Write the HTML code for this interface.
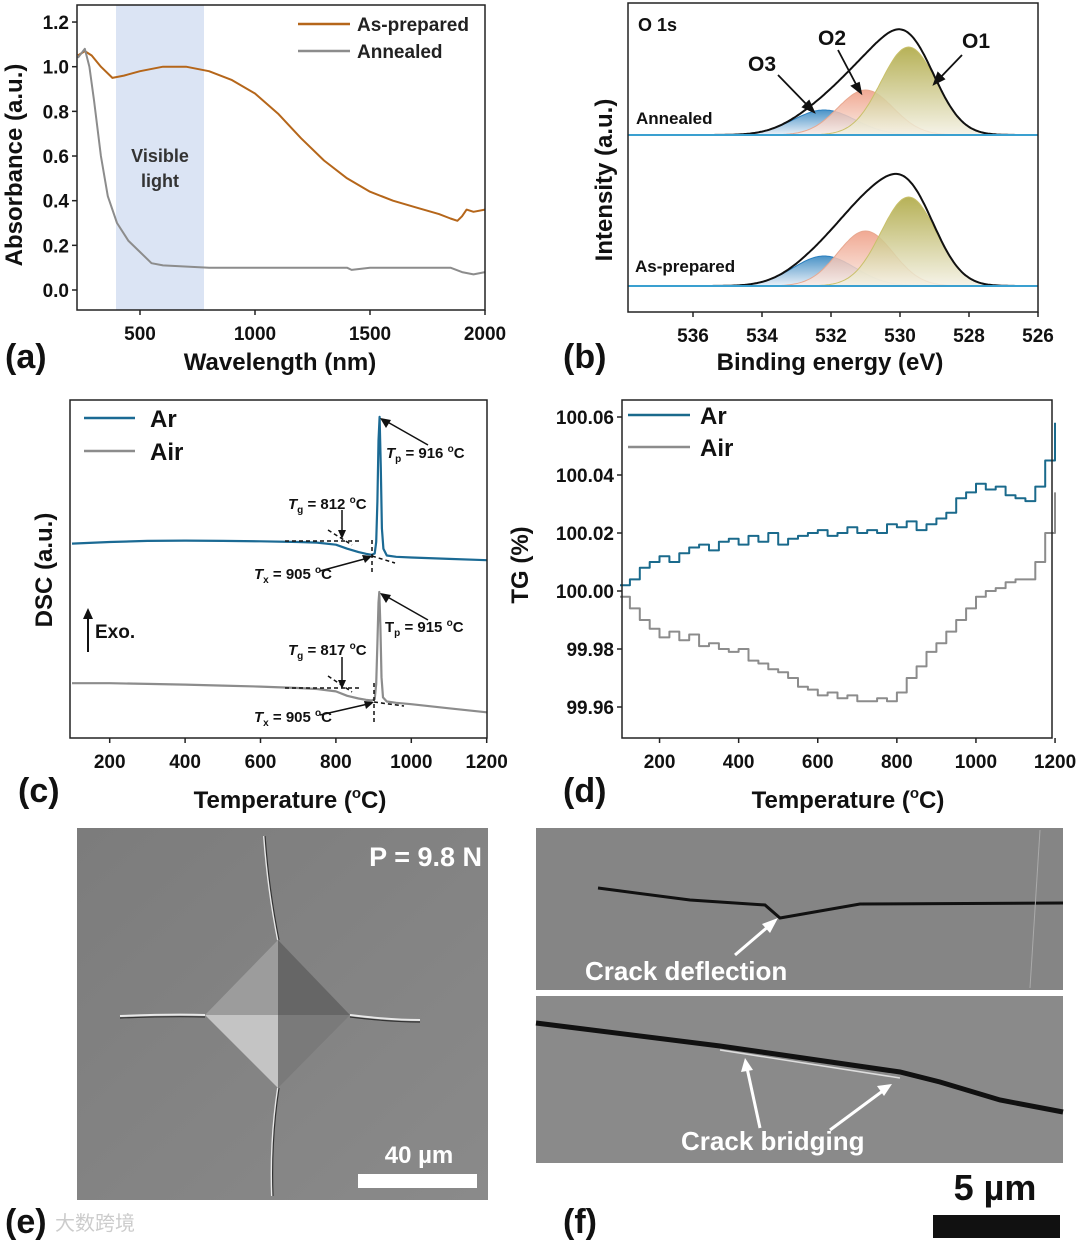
<!DOCTYPE html>
<html><head><meta charset="utf-8"><style>
html,body{margin:0;padding:0;background:#fff;}
svg{display:block;font-family:"Liberation Sans","Noto Sans CJK SC",sans-serif;font-weight:bold;}
</style></head><body>
<svg id="fig" width="1080" height="1241" viewBox="0 0 1080 1241" xmlns="http://www.w3.org/2000/svg">
<defs>
<linearGradient id="gO1" x1="0" y1="0" x2="0" y2="1"><stop offset="0" stop-color="#aaa43a"/><stop offset="1" stop-color="#f4f1e4"/></linearGradient>
<linearGradient id="gO2" x1="0" y1="0" x2="0" y2="1"><stop offset="0" stop-color="#ee9a80"/><stop offset="1" stop-color="#faece6"/></linearGradient>
<linearGradient id="gO3" x1="0" y1="0" x2="0" y2="1"><stop offset="0" stop-color="#2a80bd"/><stop offset="1" stop-color="#e6eef7"/></linearGradient>
<linearGradient id="sem1" x1="0" y1="0" x2="1" y2="1"><stop offset="0" stop-color="#7c7c7c"/><stop offset="1" stop-color="#8a8a8a"/></linearGradient>
</defs>
<!-- panel a -->
<rect x="116" y="5" width="88" height="305" fill="#dbe4f4"/>
<text x="160" y="162" font-size="18" fill="#333" text-anchor="middle">Visible</text>
<text x="160" y="187" font-size="18" fill="#333" text-anchor="middle">light</text>
<g id="pa"></g>
<rect x="77" y="5" width="408" height="305" fill="none" stroke="#222" stroke-width="1.5"/>
<line x1="298" y1="24" x2="350" y2="24" stroke="#b5661a" stroke-width="2.5"/>
<text x="357" y="31" font-size="19" fill="#222">As-prepared</text>
<line x1="298" y1="51" x2="350" y2="51" stroke="#8c8c8c" stroke-width="2.5"/>
<text x="357" y="58" font-size="19" fill="#222">Annealed</text>
<text transform="translate(22,165) rotate(-90)" font-size="24" text-anchor="middle" fill="#111">Absorbance (a.u.)</text>
<text x="280" y="370" font-size="24" text-anchor="middle" fill="#111">Wavelength (nm)</text>
<text x="5" y="368" font-size="34" fill="#111">(a)</text>
<!-- panel b -->
<g id="pb"></g>
<rect x="628" y="3" width="410" height="309" fill="none" stroke="#222" stroke-width="1.5"/>
<text x="638" y="31" font-size="18" fill="#111">O 1s</text>
<text x="636" y="124" font-size="17" fill="#111">Annealed</text>
<text x="635" y="272" font-size="17" fill="#111">As-prepared</text>
<text x="748" y="71" font-size="21" fill="#111">O3</text>
<text x="818" y="45" font-size="21" fill="#111">O2</text>
<text x="962" y="48" font-size="21" fill="#111">O1</text>
<g stroke="#111" stroke-width="1.8" fill="#111">
<line x1="778" y1="75" x2="810" y2="108"/><polygon points="814,112 803,107 809,101"/>
<line x1="838" y1="50" x2="858" y2="88"/><polygon points="861,93 852,86 859,83"/>
<line x1="962" y1="55" x2="938" y2="80"/><polygon points="934,84 938,73 944,79"/>
</g>
<text transform="translate(612,180) rotate(-90)" font-size="24" text-anchor="middle" fill="#111">Intensity (a.u.)</text>
<text x="830" y="370" font-size="24" text-anchor="middle" fill="#111">Binding energy (eV)</text>
<text x="563" y="368" font-size="34" fill="#111">(b)</text>
<!-- panel c -->
<g id="pc"></g>
<rect x="70" y="400" width="417" height="338" fill="none" stroke="#222" stroke-width="1.5"/>
<line x1="84" y1="418" x2="135" y2="418" stroke="#1b6a94" stroke-width="2.5"/>
<text x="150" y="427" font-size="24" fill="#111">Ar</text>
<line x1="84" y1="451" x2="135" y2="451" stroke="#8c8c8c" stroke-width="2.5"/>
<text x="150" y="460" font-size="24" fill="#111">Air</text>
<line x1="88" y1="652" x2="88" y2="616" stroke="#111" stroke-width="2"/>
<polygon points="88,608 83,619 93,619" fill="#111"/>
<text x="95" y="638" font-size="19" fill="#111">Exo.</text>
<g font-size="15" fill="#111">
<text x="386" y="458"><tspan font-style="italic">T</tspan><tspan font-size="10" dy="4">p</tspan><tspan dy="-4"> = 916 </tspan><tspan font-size="10" dy="-6">o</tspan><tspan dy="6">C</tspan></text>
<text x="288" y="509"><tspan font-style="italic">T</tspan><tspan font-size="10" dy="4">g</tspan><tspan dy="-4"> = 812 </tspan><tspan font-size="10" dy="-6">o</tspan><tspan dy="6">C</tspan></text>
<text x="254" y="579"><tspan font-style="italic">T</tspan><tspan font-size="10" dy="4">x</tspan><tspan dy="-4"> = 905 </tspan><tspan font-size="10" dy="-6">o</tspan><tspan dy="6">C</tspan></text>
<text x="385" y="632"><tspan>T</tspan><tspan font-size="10" dy="4">p</tspan><tspan dy="-4"> = 915 </tspan><tspan font-size="10" dy="-6">o</tspan><tspan dy="6">C</tspan></text>
<text x="288" y="655"><tspan font-style="italic">T</tspan><tspan font-size="10" dy="4">g</tspan><tspan dy="-4"> = 817 </tspan><tspan font-size="10" dy="-6">o</tspan><tspan dy="6">C</tspan></text>
<text x="254" y="722"><tspan font-style="italic">T</tspan><tspan font-size="10" dy="4">x</tspan><tspan dy="-4"> = 905 </tspan><tspan font-size="10" dy="-6">o</tspan><tspan dy="6">C</tspan></text>
</g>
<g stroke="#111" stroke-width="1.5" fill="none">
<line x1="428" y1="445" x2="384" y2="420"/><line x1="342" y1="510" x2="342" y2="533"/><line x1="320" y1="571" x2="368" y2="558"/>
<line x1="428" y1="620" x2="384" y2="595"/><line x1="342" y1="657" x2="342" y2="683"/><line x1="320" y1="715" x2="368" y2="704"/>
<g stroke-dasharray="4,3"><line x1="285" y1="541" x2="362" y2="541"/><line x1="328" y1="530" x2="352" y2="545"/><line x1="372" y1="540" x2="372" y2="575"/><line x1="372" y1="556" x2="395" y2="563"/>
<line x1="285" y1="688" x2="362" y2="688"/><line x1="328" y1="676" x2="352" y2="692"/><line x1="374" y1="683" x2="374" y2="722"/><line x1="374" y1="702" x2="404" y2="706"/></g>
</g>
<g fill="#111"><polygon points="380,418 391,420 386,428"/><polygon points="342,539 338,530 346,530"/><polygon points="372,556 362,555 365,563"/><polygon points="380,593 391,595 386,603"/><polygon points="342,689 338,680 346,680"/><polygon points="374,702 364,701 366,709"/></g>
<text transform="translate(52,570) rotate(-90)" font-size="24" text-anchor="middle" fill="#111">DSC (a.u.)</text>
<text x="290" y="808" font-size="24" text-anchor="middle" fill="#111">Temperature (<tspan font-size="15" dy="-10">o</tspan><tspan dy="10">C)</tspan></text>
<text x="18" y="802" font-size="34" fill="#111">(c)</text>
<!-- panel d -->
<g id="pd"></g>
<rect x="622" y="400" width="430" height="338" fill="none" stroke="#222" stroke-width="1.5"/>
<line x1="628" y1="415" x2="690" y2="415" stroke="#1a6a8c" stroke-width="2.5"/>
<text x="700" y="424" font-size="24" fill="#111">Ar</text>
<line x1="628" y1="447" x2="690" y2="447" stroke="#8c8c8c" stroke-width="2.5"/>
<text x="700" y="456" font-size="24" fill="#111">Air</text>
<text transform="translate(528,565) rotate(-90)" font-size="24" text-anchor="middle" fill="#111">TG (%)</text>
<text x="848" y="808" font-size="24" text-anchor="middle" fill="#111">Temperature (<tspan font-size="15" dy="-10">o</tspan><tspan dy="10">C)</tspan></text>
<text x="563" y="802" font-size="34" fill="#111">(d)</text>
<!-- panel e -->
<g>
<rect x="77" y="828" width="411" height="372" fill="url(#sem1)"/>
<polygon points="278,940 350,1015 278,1088 205,1015" fill="#8a8a8a"/>
<polygon points="278,940 205,1015 278,1015" fill="#9c9c9c"/>
<polygon points="205,1015 278,1088 278,1015" fill="#c4c4c4"/>
<polygon points="278,940 350,1015 278,1015" fill="#666"/>
<polygon points="278,1015 350,1015 278,1088" fill="#7a7a7a"/>
<path d="M264,836 Q268,890 278,940 M278,1088 Q270,1140 272,1196 M120,1016 Q170,1014 205,1015 M350,1015 Q390,1020 420,1020" stroke="#e8e8e8" stroke-width="2" fill="none"/>
<path d="M265,836 Q269,890 279,940 M279,1088 Q271,1140 273,1196 M120,1018 Q170,1016 205,1017 M350,1017 Q390,1022 420,1022" stroke="#333" stroke-width="1.2" fill="none"/>
</g>
<text x="482" y="866" font-size="27" fill="#fff" text-anchor="end">P = 9.8 N</text>
<rect x="358" y="1174" width="119" height="14" fill="#fff"/>
<text x="419" y="1163" font-size="24" fill="#fff" text-anchor="middle">40 µm</text>
<text x="5" y="1233" font-size="34" fill="#111">(e)</text>
<text x="55" y="1230" font-size="20" fill="#ccc" font-weight="normal">大数跨境</text>
<!-- panel f -->
<g>
<rect x="536" y="828" width="527" height="162" fill="#858585"/>
<path d="M598,888 L690,900 L765,905 L780,918 L860,904 L1063,903" stroke="#111" stroke-width="3" fill="none"/>
<line x1="1040" y1="830" x2="1030" y2="988" stroke="#aaa" stroke-width="1"/>
</g>
<line x1="735" y1="955" x2="770" y2="925" stroke="#fff" stroke-width="3"/>
<polygon points="778,918 762,924 770,933" fill="#fff"/>
<text x="585" y="980" font-size="26" fill="#fff">Crack deflection</text>
<g>
<rect x="536" y="996" width="527" height="167" fill="#8a8a8a"/>
<path d="M536,1023 L720,1046 L900,1072 L940,1082 L1000,1100 L1063,1112" stroke="#111" stroke-width="5" fill="none"/>
<path d="M720,1050 L900,1078" stroke="#ddd" stroke-width="1.5" fill="none"/>
</g>
<line x1="760" y1="1128" x2="747" y2="1068" stroke="#fff" stroke-width="3"/>
<polygon points="745,1058 741,1072 753,1070" fill="#fff"/>
<line x1="830" y1="1130" x2="884" y2="1090" stroke="#fff" stroke-width="3"/>
<polygon points="892,1084 877,1086 884,1096" fill="#fff"/>
<text x="681" y="1150" font-size="26" fill="#fff">Crack bridging</text>
<rect x="933" y="1215" width="127" height="23" fill="#111"/>
<text x="995" y="1200" font-size="36" fill="#111" text-anchor="middle">5 µm</text>
<text x="563" y="1233" font-size="34" fill="#111">(f)</text>
</svg>
<script>
const NS='http://www.w3.org/2000/svg';
// ---- data ----
const absWl=[230,260,290,330,380,430,500,600,700,800,900,1000,1100,1200,1300,1400,1500,1600,1700,1800,1850,1880,1900,1920,1950,2000];
const absAsPrep=[1.05,1.07,1.05,1.0,0.95,0.96,0.98,1.0,1.0,0.98,0.94,0.88,0.79,0.68,0.58,0.50,0.44,0.40,0.37,0.34,0.32,0.31,0.33,0.36,0.35,0.36];
const absAnnWl=[230,260,280,300,330,360,400,450,500,550,600,800,1000,1400,1420,1500,1850,1900,1950,2000];
const absAnnealed=[1.04,1.08,1.0,0.85,0.6,0.42,0.30,0.22,0.17,0.12,0.11,0.10,0.10,0.10,0.09,0.10,0.10,0.08,0.07,0.08];
const absTicks=[0.0,0.2,0.4,0.6,0.8,1.0,1.2];
const wlTicks=[500,1000,1500,2000];
const xpsComponents=['O1','O2','O3'];
const xpsCenters=[529.75,531.0,532.2];
const xpsSigma=[0.8,0.8,0.9];
const xpsAnnealedHeights=[88,45,25];
const xpsAsPrepHeights=[89,55,30];
const beTicks=[536,534,532,530,528,526];
const dscTempAr=[100,200,300,400,500,600,700,750,800,830,860,880,895,903,907,910,913,916,919,922,926,935,960,1000,1100,1200];
const dscAr=[57.5,58,58.3,58.4,58.3,58.2,58,57.8,57.2,56,55,54.5,54.2,54.6,58,70,88,95,80,62,56,54,53.6,53.4,53.0,52.6];
const dscTempAir=[100,200,300,400,500,600,700,750,800,830,860,880,895,903,907,910,913,915,918,921,925,935,960,1000,1100,1200];
const dscAir=[16.2,16.2,16,15.8,15.5,15.2,14.8,14.5,13.8,12.5,11.7,11.3,11.1,11.5,16,28,40,43.2,33,18,12,10.8,10.4,10.0,8.8,7.6];
const tempTicks=[200,400,600,800,1000,1200];
const tgTemp=[100,125,150,175,200,225,250,275,300,325,350,375,400,425,450,475,500,525,550,575,600,625,650,675,700,725,750,775,800,825,850,875,900,925,950,975,1000,1025,1050,1075,1100,1125,1150,1175,1200];
const tgAr=[100.002,100.004,100.008,100.010,100.012,100.010,100.013,100.015,100.016,100.014,100.017,100.018,100.016,100.019,100.017,100.020,100.016,100.018,100.019,100.020,100.021,100.019,100.020,100.022,100.020,100.021,100.020,100.023,100.022,100.024,100.021,100.023,100.025,100.027,100.032,100.034,100.037,100.035,100.036,100.033,100.032,100.031,100.036,100.045,100.058];
const tgAir=[99.998,99.994,99.990,99.987,99.984,99.986,99.983,99.985,99.981,99.982,99.980,99.979,99.980,99.976,99.975,99.973,99.972,99.970,99.967,99.966,99.964,99.965,99.963,99.964,99.962,99.962,99.963,99.962,99.965,99.970,99.974,99.979,99.982,99.986,99.990,99.994,99.998,100.000,100.001,100.003,100.004,100.004,100.010,100.020,100.034];
const tgTicks=[99.96,99.98,100.00,100.02,100.04,100.06];
// ---- helpers ----
function el(tag,parent){const e=document.createElementNS(NS,tag);parent.appendChild(e);return e;}
function linePath(xs,ys,fx,fy){return xs.map((x,i)=>(i?'L':'M')+fx(x).toFixed(1)+','+fy(ys[i]).toFixed(1)).join('');}
function xTicks(g,ticks,fx,yb,fmt,len){ticks.forEach(t=>{const l=el('line',g);


l.setAttribute('x1',fx(t));l.setAttribute('x2',fx(t));l.setAttribute('y1',yb);l.setAttribute('y2',yb+len);l.setAttribute('stroke','#222');l.setAttribute('stroke-width','1.5');
const tx=el('text',g);


tx.setAttribute('x',fx(t));tx.setAttribute('y',yb+30);tx.setAttribute('font-size','19');tx.setAttribute('text-anchor','middle');tx.setAttribute('fill','#111');tx.textContent=fmt(t);});}
function yTicks(g,ticks,fy,xl,fmt){ticks.forEach(t=>{const l=el('line',g);


l.setAttribute('x1',xl-5);l.setAttribute('x2',xl);l.setAttribute('y1',fy(t));l.setAttribute('y2',fy(t));l.setAttribute('stroke','#222');l.setAttribute('stroke-width','1.5');
const tx=el('text',g);


tx.setAttribute('x',xl-8);tx.setAttribute('y',fy(t)+7);tx.setAttribute('font-size','19');tx.setAttribute('text-anchor','end');tx.setAttribute('fill','#111');tx.textContent=fmt(t);});}
function series(g,d,color,w,name){const p=el('path',g);


p.setAttribute('d',d);p.setAttribute('stroke',color);p.setAttribute('stroke-width',w);p.setAttribute('fill','none');p.setAttribute('stroke-linejoin','round');return p;}
// ---- panel a ----
(function(){const g=document.getElementById('pa');
const fx=v=>25+v*0.23, fy=v=>290-v*223.3;
series(g,linePath(absWl,absAsPrep,fx,fy),'#b5661a',2,'as-prepared-series');
series(g,linePath(absAnnWl,absAnnealed,fx,fy),'#8c8c8c',2,'annealed-series');
xTicks(g,wlTicks,fx,310,t=>t,5);
yTicks(g,absTicks,fy,77,t=>t.toFixed(1));})();
// ---- panel b ----
(function(){const g=document.getElementById('pb');
const fx=e=>1038-(e-526)*34.5;
const fills=['url(#gO1)','url(#gO2)','url(#gO3)'], strokes=['#c9c06a','#e8a890','#2a7fbf'];
const es=[];for(let e=537.9;e>=526;e-=0.05)es.push(+e.toFixed(2));
function draw(heights,base,tag){
 const gauss=(i,e)=>heights[i]*Math.exp(-0.5*Math.pow((e-xpsCenters[i])/xpsSigma[i],2));
 [2,1,0].forEach(i=>{const p=el('path',g);
 
 
 let d='M'+fx(es[0])+','+base;es.forEach(e=>{d+='L'+fx(e).toFixed(1)+','+(base-gauss(i,e)).toFixed(1);});d+='L'+fx(es[es.length-1])+','+base+'Z';
 p.setAttribute('d',d);p.setAttribute('fill',fills[i]);p.setAttribute('fill-opacity','0.85');p.setAttribute('stroke',strokes[i]);p.setAttribute('stroke-width','1');});
 const env=es.map(e=>gauss(0,e)+gauss(1,e)+gauss(2,e));
 series(g,linePath(es,env,fx,v=>base-v),'#111',2,'envelope-'+tag);
 const bl=el('line',g);
 
 
 bl.setAttribute('x1',628);bl.setAttribute('x2',1038);bl.setAttribute('y1',base);bl.setAttribute('y2',base);bl.setAttribute('stroke','#3aa0d0');bl.setAttribute('stroke-width','2');}
draw(xpsAnnealedHeights,135,'annealed');
draw(xpsAsPrepHeights,286,'as-prepared');
xTicks(g,beTicks,fx,312,t=>t,5);})();
// ---- panel c ----
(function(){const g=document.getElementById('pc');
const fx=t=>72+(t-100)*0.377, fy=v=>738-v*3.38;
series(g,linePath(dscTempAr,dscAr,fx,fy),'#1b6a94',2.2,'dsc-ar-series');
series(g,linePath(dscTempAir,dscAir,fx,fy),'#8c8c8c',2.2,'dsc-air-series');
xTicks(g,tempTicks,fx,738,t=>t,5);})();
// ---- panel d ----
(function(){const g=document.getElementById('pd');
const fx=t=>620+(t-100)*0.3955, fy=v=>591-(v-100)*2900;
function step(xs,ys){let d='M'+fx(xs[0]).toFixed(1)+','+fy(ys[0]).toFixed(1);for(let i=1;i<xs.length;i++){d+='H'+fx(xs[i]).toFixed(1)+'V'+fy(ys[i]).toFixed(1);}return d;}
series(g,step(tgTemp,tgAr),'#1a6a8c',2,'tg-ar-series');
series(g,step(tgTemp,tgAir),'#8c8c8c',2,'tg-air-series');
xTicks(g,tempTicks,fx,738,t=>t,5);
yTicks(g,tgTicks,fy,622,t=>t.toFixed(2));})();
</script>
</body></html>
